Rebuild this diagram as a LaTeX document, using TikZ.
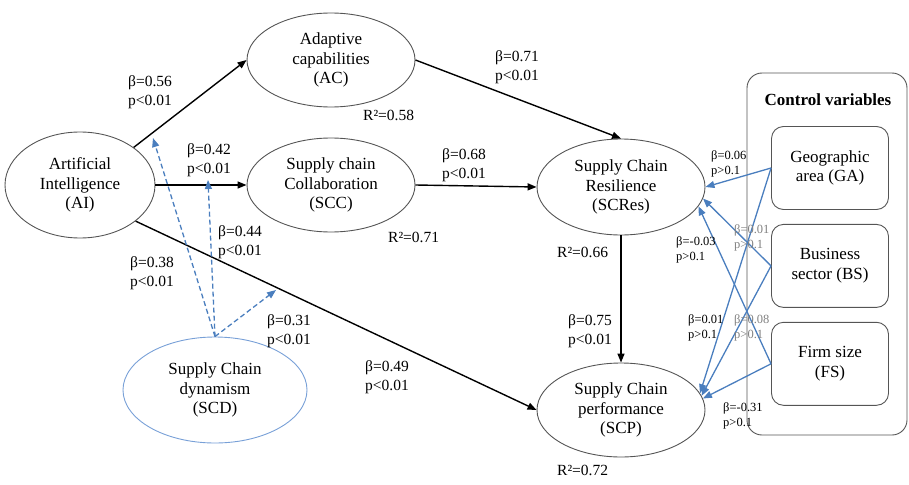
\documentclass[tikz,border=0pt]{standalone}
\usepackage{fontspec}
\setmainfont{Liberation Serif}
\usetikzlibrary{arrows.meta,positioning,shapes.geometric}
\definecolor{cvblue}{RGB}{74,126,190}
\definecolor{lvgray}{RGB}{85,85,85}
\definecolor{scdblue}{RGB}{120,160,215}

\begin{document}
\begin{tikzpicture}[x=1pt,y=-1pt,
  latent/.style={ellipse,draw=lvgray,line width=0.9pt,inner sep=0pt,align=center,
                 font=\fontsize{17}{19.5}\selectfont,minimum width=168pt,minimum height=94pt},
  ctrlbox/.style={rectangle,rounded corners=12pt,draw=lvgray,line width=0.9pt,align=center,
                  font=\fontsize{17}{19.5}\selectfont,minimum width=117pt,minimum height=83pt},
  effect/.style={-{Triangle[length=9pt,width=7pt]},line width=1.4pt},
  moder/.style={-{Triangle[length=9pt,width=7pt]},cvblue,line width=1.3pt,dash pattern=on 5pt off 3pt},
  ctrl/.style={-{Triangle[length=9pt,width=7pt]},cvblue,line width=1.3pt},
  coef/.style={anchor=west,align=left,inner sep=0pt,font=\fontsize{15.5}{19.5}\selectfont},
  scoef/.style={coef,font=\fontsize{12.5}{14.5}\selectfont}]

\useasboundingbox (0,0) rectangle (909,484);

% latent variables
\node[latent,minimum width=150pt,minimum height=106pt] (AI) at (80,185) {Artificial\\Intelligence\\(AI)};
\node[latent] (AC) at (331,60) {Adaptive\\capabilities\\(AC)};
\node[latent] (SCC) at (331,185) {Supply chain\\Collaboration\\(SCC)};
\node[latent,minimum height=96pt] (SCRes) at (621,187) {Supply Chain\\Resilience\\(SCRes)};
\node[latent] (SCP) at (621,410) {Supply Chain\\performance\\(SCP)};
\node[latent,draw=scdblue,minimum width=184pt,minimum height=106pt] (SCD) at (215,390) {Supply Chain\\dynamism\\(SCD)};

% control variables
\draw[lvgray,rounded corners=15pt,line width=0.9pt] (747,73) rectangle (907,435);
\node[font=\bfseries\fontsize{17}{20}\selectfont] (CVtitle) at (828,100) {Control variables};
\node[ctrlbox] (GA) at (830,168) {Geographic\\area (GA)};
\node[ctrlbox,below=14pt of GA] (BS) {Business\\sector (BS)};
\node[ctrlbox,below=14pt of BS] (FS) {Firm size\\(FS)};

% structural paths
\draw[effect] (AI.35) -- (AC.west);
\draw[effect] (AI.east) -- (SCC.west);
\draw[effect] (AI.-33) -- (SCP.west);
\draw[effect] (AC.east) -- (SCRes.north);
\draw[effect] (SCC.east) -- (SCRes.west);
\draw[effect] (SCRes.south) -- (SCP.north);

% moderation
\coordinate (mAC) at (153,138);
\coordinate (mSCC) at (208,180);
\coordinate (mSCP) at (276,290);
\draw[moder] (SCD.north) -- (mAC);
\draw[moder] (SCD.north) -- (mSCC);
\draw[moder] (SCD.north) -- (mSCP);

% control paths
\draw[ctrl] (GA.west) -- (SCRes.east);
\draw[ctrl] (GA.west) -- (SCP.12);
\draw[ctrl] (BS.west) -- (SCRes.-8);
\draw[ctrl] (BS.west) -- (SCP.10);
\draw[ctrl] (FS.west) -- (SCRes.-14);
\draw[ctrl] (FS.west) -- (SCP.8);

% coefficients
\node[coef] at (128,92) {β=0.56\\p<0.01};
\node[coef] at (187,160) {β=0.42\\p<0.01};
\node[coef] at (218,242) {β=0.44\\p<0.01};
\node[coef] at (130,273) {β=0.38\\p<0.01};
\node[coef] at (267,331) {β=0.31\\p<0.01};
\node[coef] at (365,377) {β=0.49\\p<0.01};
\node[coef] at (495,67) {β=0.71\\p<0.01};
\node[coef] at (442,165) {β=0.68\\p<0.01};
\node[coef] at (568,331) {β=0.75\\p<0.01};
\node[coef] at (363,115) {R²=0.58};
\node[coef] at (388,237) {R²=0.71};
\node[coef] at (557,252) {R²=0.66};
\node[coef] at (557,470) {R²=0.72};
\node[scoef] at (711,164) {β=0.06\\p>0.1};
\node[scoef,text=gray] at (734,238) {β=0.01\\p>0.1};
\node[scoef] at (676,250) {β=-0.03\\p>0.1};
\node[scoef] at (688,328) {β=0.01\\p>0.1};
\node[scoef,text=gray] at (734,328) {β=0.08\\p>0.1};
\node[scoef] at (723,416) {β=-0.31\\p>0.1};

\end{tikzpicture}
\end{document}
